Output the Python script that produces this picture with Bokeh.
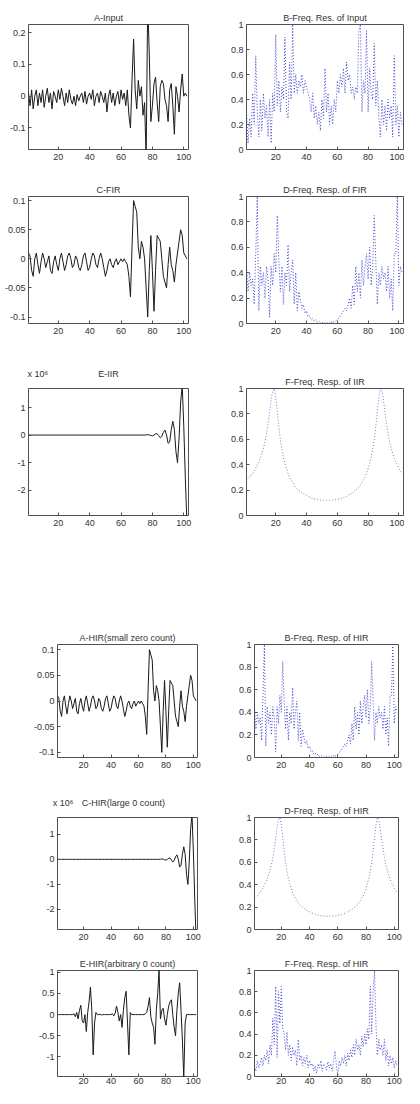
from bokeh.plotting import figure
from bokeh.layouts import column, row
from bokeh.models import FixedTicker, Range1d, LinearAxis
from bokeh.embed import file_html
from bokeh.resources import INLINE

FONT = "Liberation Sans"

# ---------------- data ----------------
x_ticks = [20, 40, 60, 80, 100]
x_tick_labels = ["20", "40", "60", "80", "100"]

input_sig = [
    0.01, -0.03, 0.02, -0.04, 0.0, 0.02, -0.03, 0.01, -0.02, 0.02,
    -0.035, 0.0, 0.025, -0.02, 0.01, -0.04, 0.015, 0.0, -0.02, 0.02,
    -0.01, 0.025, 0.0, -0.03, 0.01, -0.02, 0.02, -0.01, -0.025, 0.0,
    -0.03, 0.005, -0.015, 0.0, 0.01, -0.02, 0.015, -0.025, 0.0, 0.01,
    -0.01, 0.02, -0.03, 0.0, 0.01, -0.02, 0.015, 0.0, -0.02, 0.01,
    -0.05, 0.0, 0.02, -0.02, 0.01, -0.03, 0.0, 0.015, -0.025, 0.02,
    -0.01, 0.01, -0.03, 0.02,
    -0.06, -0.1, 0.05, 0.18, 0.02, -0.04, 0.05, 0.0, 0.03, -0.06,
    -0.02, -0.2, 0.3, 0.13, -0.08, -0.03, 0.04, 0.06, -0.02, -0.08,
    0.03, 0.05, 0.04, -0.01, -0.03, -0.08, 0.02, 0.04, -0.03, -0.12,
    0.03, 0.0, -0.05, 0.02, 0.07, 0.0, 0.01, 0.0,
]

input_spec = [
    0.30, 0.05, 0.25, 0.10, 0.45, 0.20, 0.75, 0.30, 0.10, 0.40,
    0.15, 0.45, 0.25, 0.35, 0.10, 0.40, 0.05, 0.45, 0.30, 0.92,
    0.35, 0.55, 0.30, 0.50, 0.40, 0.90, 0.30, 0.25, 0.70, 0.40,
    1.00, 0.45, 0.60, 0.45, 0.55, 0.50, 0.60, 0.45, 0.55, 0.50,
    0.45, 0.40, 0.30, 0.45, 0.25, 0.35, 0.20, 0.30, 0.15, 0.40,
    0.25, 0.65, 0.30, 0.45, 0.20, 0.35, 0.20, 0.40, 0.30, 0.55,
    0.45, 0.60, 0.50, 0.65, 0.45, 0.70, 0.55, 0.60, 0.45, 0.50,
    0.40, 0.50, 0.45, 0.95, 1.00, 0.30, 0.55, 0.45, 0.95, 0.30,
    0.65, 0.45, 0.40, 0.85, 0.35, 0.55, 0.25, 0.10, 0.40, 0.20,
    0.35, 0.15, 0.40, 0.25, 0.35, 0.10, 0.75, 0.20, 0.35, 0.10,
    0.30, 0.20,
]

fir_sig = [
    0.01, 0.005, -0.02, -0.03, 0.0, 0.01, -0.01, -0.025, -0.005, 0.01,
    0.0, -0.015, -0.005, 0.005, -0.02, -0.025, -0.005, 0.005, -0.01, -0.02,
    0.0, 0.01, -0.005, -0.02, -0.01, 0.005, 0.01, 0.0, -0.015, -0.01,
    0.005, 0.0, -0.015, -0.02, -0.01, 0.005, 0.01, -0.005, -0.02, -0.015,
    0.0, 0.01, 0.005, -0.01, -0.015, 0.0, 0.01, 0.0, -0.015, -0.03,
    -0.02, -0.005, 0.0, -0.01, -0.015, -0.005, 0.0, -0.01, -0.005, 0.0,
    -0.005, 0.0, -0.005,
    -0.01, -0.03, -0.065, 0.02, 0.1, 0.09, 0.08, 0.02, 0.0, 0.03,
    0.02, 0.0, -0.05, -0.1, -0.02, 0.04, -0.02, -0.09, -0.02, 0.04,
    0.035, 0.03, 0.0, -0.03, -0.04, -0.05, -0.01, 0.02, -0.01, -0.02,
    -0.04, -0.01, 0.01, 0.03, 0.05, 0.04, 0.01, 0.005, 0.0,
]

fir_spec = [
    0.45, 0.25, 0.40, 0.30, 0.35, 0.15, 0.55, 1.00, 0.10, 0.45,
    0.30, 0.40, 0.20, 0.45, 0.35, 0.05, 0.45, 0.30, 0.55, 0.40,
    0.85, 0.50, 0.25, 0.45, 0.15, 0.40, 0.30, 0.62, 0.25, 0.40,
    0.50, 0.15, 0.40, 0.10, 0.25, 0.18, 0.12, 0.15, 0.08, 0.10,
    0.05, 0.06, 0.03, 0.04, 0.02, 0.03, 0.01, 0.02, 0.01, 0.01,
    0.00, 0.01, 0.00, 0.01, 0.01, 0.00, 0.02, 0.01, 0.02, 0.03,
    0.04, 0.06, 0.08, 0.10, 0.12, 0.10, 0.15, 0.20, 0.12, 0.30,
    0.15, 0.45, 0.25, 0.40, 0.20, 0.50, 0.30, 0.45, 0.55, 0.35,
    0.60, 0.30, 0.45, 0.85, 0.50, 0.15, 0.40, 0.30, 0.45, 0.35,
    0.40, 0.25, 0.45, 0.20, 0.35, 0.10, 0.55, 0.55, 1.00, 0.30,
    0.45, 0.40,
]

# IIR impulse response, in units of 10^6
iir_sig = [0.0] * 75 + [
    0.005, 0.015, 0.005, -0.015, -0.03, 0.0, 0.04, 0.05, -0.02, -0.1,
    -0.05, 0.1, 0.18, 0.0, -0.3, -0.25, 0.2, 0.5, 0.2, -0.6,
    -1.0, -0.1, 1.2, 1.8, 0.3, -1.6, -3.2,
]

iir_spec = [
    0.28, 0.29, 0.30, 0.32, 0.33, 0.35, 0.37, 0.40, 0.42, 0.45,
    0.49, 0.53, 0.58, 0.64, 0.72, 0.81, 0.91, 0.98, 1.00, 0.93,
    0.82, 0.70, 0.60, 0.52, 0.46, 0.41, 0.37, 0.33, 0.30, 0.28,
    0.26, 0.24, 0.22, 0.21, 0.20, 0.19, 0.18, 0.17, 0.165, 0.16,
    0.15, 0.145, 0.14, 0.135, 0.13, 0.13, 0.125, 0.125, 0.12, 0.12,
    0.12, 0.12, 0.12, 0.12, 0.12, 0.12, 0.12, 0.12, 0.125, 0.125,
    0.13, 0.13, 0.135, 0.14, 0.145, 0.15, 0.16, 0.165, 0.17, 0.18,
    0.19, 0.20, 0.21, 0.22, 0.24, 0.26, 0.28, 0.30, 0.33, 0.37,
    0.41, 0.46, 0.52, 0.60, 0.70, 0.82, 0.93, 1.00, 0.98, 0.91,
    0.81, 0.72, 0.64, 0.58, 0.53, 0.49, 0.45, 0.42, 0.40, 0.37,
    0.35, 0.33,
]

hir_small_sig = list(fir_sig)      # A-HIR(small zero count)
hir_small_spec = list(fir_spec)    # B-Freq. Resp. of HIR
hir_large_sig = list(iir_sig)      # C-HIR(large 0 count), units of 10^6
hir_large_spec = list(iir_spec)    # D-Freq. Resp. of HIR

hir_arb_sig = [0.0] * 12 + [
    0.02, -0.05, 0.05, -0.1, 0.1, 0.22, -0.15, -0.2, 0.0, -0.4,
    0.05, 0.3, 0.65, 0.1, -0.95, -0.2, 0.05, 0.0, 0.0, 0.01,
    -0.01, 0.0, 0.0, 0.0, 0.0, 0.0, 0.0, 0.0, 0.02, -0.03,
    0.03, 0.2, 0.05, -0.15, 0.0, -0.3, 0.1, 0.4, 0.55, -0.2,
    -0.95, 0.05, 0.0, 0.0, 0.0, 0.0, 0.0, 0.0, 0.0, 0.0,
    0.0, 0.0, 0.02, 0.05, 0.2, 0.4, -0.05, -0.2, -0.3, -0.7,
    0.1, 0.5, 1.05, -0.1, 0.1, 0.15, -0.1, -0.25, 0.0, 0.2,
    0.3, 0.35, 0.0, -0.3, -0.5, 0.1, 0.5, 0.75, 0.1, -0.6,
    -1.5, -0.2, 0.0, 0.0, 0.0, 0.0, 0.0, 0.0, 0.0, 0.0,
]

hir_arb_spec = [
    0.10, 0.05, 0.15, 0.08, 0.12, 0.18, 0.10, 0.20, 0.15, 0.25,
    0.12, 0.30, 0.20, 0.55, 0.30, 0.85, 0.18, 0.80, 0.50, 0.85,
    0.45, 0.40, 0.25, 0.42, 0.20, 0.30, 0.15, 0.28, 0.20, 0.25,
    0.10, 0.35, 0.15, 0.20, 0.10, 0.18, 0.12, 0.20, 0.08, 0.15,
    0.10, 0.12, 0.05, 0.10, 0.03, 0.12, 0.08, 0.15, 0.05, 0.12,
    0.10, 0.06, 0.14, 0.08, 0.12, 0.05, 0.15, 0.24, 0.10, 0.00,
    0.15, 0.10, 0.18, 0.12, 0.20, 0.10, 0.22, 0.15, 0.25, 0.18,
    0.30, 0.20, 0.35, 0.25, 0.30, 0.20, 0.38, 0.28, 0.40, 0.30,
    0.45, 0.35, 0.85, 0.40, 0.80, 1.00, 0.50, 0.20, 0.35, 0.25,
    0.30, 0.20, 0.35, 0.15, 0.25, 0.10, 0.20, 0.12, 0.18, 0.08,
    0.15, 0.10,
]

spec_ticks = [0, 0.2, 0.4, 0.6, 0.8, 1.0]
spec_labels = ["0", "0.2", "0.4", "0.6", "0.8", "1"]

# ---------------- styling helpers ----------------
SIG_COLOR = "#1a1a1a"
SPEC_COLOR = "#3333cc"
SPEC_COLOR_SMOOTH = "#6a6ac4"
TEXT_COLOR = "#333333"


def panel(title, ys, kind, yr, yticks, ylabels, w, h, bl, br, bt, bb,
          color=None, xstand=4, top_labels=None):
    p = figure(width=w, height=h, output_backend="svg", toolbar_location=None,
               x_range=Range1d(1, 103), y_range=Range1d(*yr),
               min_border_left=bl, min_border_right=br,
               min_border_top=bt, min_border_bottom=bb, title=title)
    p.background_fill_color = "white"
    p.border_fill_color = "white"
    p.outline_line_color = "#505050"
    p.outline_line_width = 1
    p.xgrid.visible = False
    p.ygrid.visible = False
    if title is not None:
        p.title.align = "center"
        p.title.text_font = FONT
        p.title.text_font_size = "9px"
        p.title.text_font_style = "normal"
        p.title.text_color = TEXT_COLOR
        p.title.standoff = 3
    xs = list(range(1, len(ys) + 1))
    if kind == "sig":
        p.line(xs, ys, line_color=color or SIG_COLOR, line_width=1)
    else:
        p.line(xs, ys, line_color=color or SPEC_COLOR, line_width=0.9,
               line_dash="1 2")
    p.xaxis.ticker = FixedTicker(ticks=x_ticks)
    p.xaxis.major_label_overrides = dict(zip(x_ticks, x_tick_labels))
    p.yaxis.ticker = FixedTicker(ticks=yticks)
    p.yaxis.major_label_overrides = dict(zip(yticks, ylabels))
    for ax in (p.xaxis[0], p.yaxis[0]):
        ax.axis_line_color = None
        ax.major_tick_in = 3
        ax.major_tick_out = 0
        ax.major_tick_line_color = "#505050"
        ax.minor_tick_line_color = None
        ax.major_label_text_font = FONT
        ax.major_label_text_font_size = "9px"
        ax.major_label_text_color = TEXT_COLOR
    p.xaxis.major_label_standoff = xstand
    p.yaxis.major_label_standoff = 3
    if top_labels is not None:
        # exponent marker and title on one line above the frame
        pos = [t[0] for t in top_labels]
        top = LinearAxis(ticker=FixedTicker(ticks=pos),
                         major_label_overrides={t[0]: t[1] for t in top_labels},
                         axis_line_color=None, major_tick_line_color=None,
                         minor_tick_line_color=None,
                         major_label_text_font=FONT,
                         major_label_text_font_size="9px",
                         major_label_text_color=TEXT_COLOR,
                         major_label_standoff=4)
        p.add_layout(top, "above")
    return p


# column geometry
LW, RW = 216, 188
TL = (28, 28)   # top half left border (left,right)
TR = (30, 1)
BL = (57, 19)   # bottom half
BR = (38, 6)

# rows: (height, top border, bottom border)
R1 = (170, 24, 21)
R2 = (182, 26, 29)
R3 = (240, 36, 77)
R4 = (195, 52, 30)
R5 = (160, 30, 18)
R6 = (141, 23, 12)

yA = (-0.168, 0.226)
yC = (-0.111, 0.107)
yE = (-2.92, 1.69)
yHA = (-0.11, 0.11)
yHC = (-2.8, 1.67)
yHE = (-1.46, 1.04)

pA = panel("A-Input", input_sig, "sig", yA, [-0.1, 0, 0.1, 0.2],
           ["-0.1", "0", "0.1", "0.2"], LW, R1[0], TL[0], TL[1], R1[1], R1[2])
pB = panel("B-Freq. Res. of Input", input_spec, "spec", (0, 1), spec_ticks,
           spec_labels, RW, R1[0], TR[0], TR[1], R1[1], R1[2])
pC = panel("C-FIR", fir_sig, "sig", yC, [-0.1, -0.05, 0, 0.05, 0.1],
           ["-0.1", "-0.05", "0", "0.05", "0.1"], LW, R2[0], TL[0], TL[1], R2[1], R2[2])
pD = panel("D-Freq. Resp. of FIR", fir_spec, "spec", (0, 1), spec_ticks,
           spec_labels, RW, R2[0], TR[0], TR[1], R2[1], R2[2])
pE = panel(None, iir_sig, "sig", yE, [-2, -1, 0, 1],
           ["-2", "-1", "0", "1"], LW, R3[0], TL[0], TL[1], R3[1], R3[2],
           top_labels=[(7.0, "x 10\u2076"), (52, "E-IIR")])
pF = panel("F-Freq. Resp. of IIR", iir_spec, "spec", (0, 1), spec_ticks,
           spec_labels, RW, R3[0], TR[0], TR[1], R3[1], R3[2], color=SPEC_COLOR_SMOOTH)

qA = panel("A-HIR(small zero count)", hir_small_sig, "sig", yHA,
           [-0.1, -0.05, 0, 0.05, 0.1], ["-0.1", "-0.05", "0", "0.05", "0.1"],
           LW, R4[0], BL[0], BL[1], R4[1], R4[2])
qB = panel("B-Freq. Resp. of HIR", hir_small_spec, "spec", (0, 1), spec_ticks,
           spec_labels, RW, R4[0], BR[0], BR[1], R4[1], R4[2])
qC = panel(None, hir_large_sig, "sig", yHC, [-2, -1, 0, 1],
           ["-2", "-1", "0", "1"], LW, R5[0], BL[0], BL[1], R5[1], R5[2],
           top_labels=[(5.0, "x 10\u2076"), (49, "C-HIR(large 0 count)")])
qD = panel("D-Freq. Resp. of HIR", hir_large_spec, "spec", (0, 1), spec_ticks,
           spec_labels, RW, R5[0], BR[0], BR[1], R5[1], R5[2], color=SPEC_COLOR_SMOOTH)
qE = panel("E-HIR(arbitrary 0 count)", hir_arb_sig, "sig", yHE,
           [-1, -0.5, 0, 0.5, 1], ["-1", "-0.5", "0", "0.5", "1"],
           LW, R6[0], BL[0], BL[1], R6[1], R6[2], xstand=1)
qF = panel("F-Freq. Resp. of HIR", hir_arb_spec, "spec", (0, 1), spec_ticks,
           spec_labels, RW, R6[0], BR[0], BR[1], R6[1], R6[2], xstand=1)

layout = column(row(pA, pB), row(pC, pD), row(pE, pF),
                row(qA, qB), row(qC, qD), row(qE, qF))

open("out.html", "w").write(file_html(layout, INLINE))
